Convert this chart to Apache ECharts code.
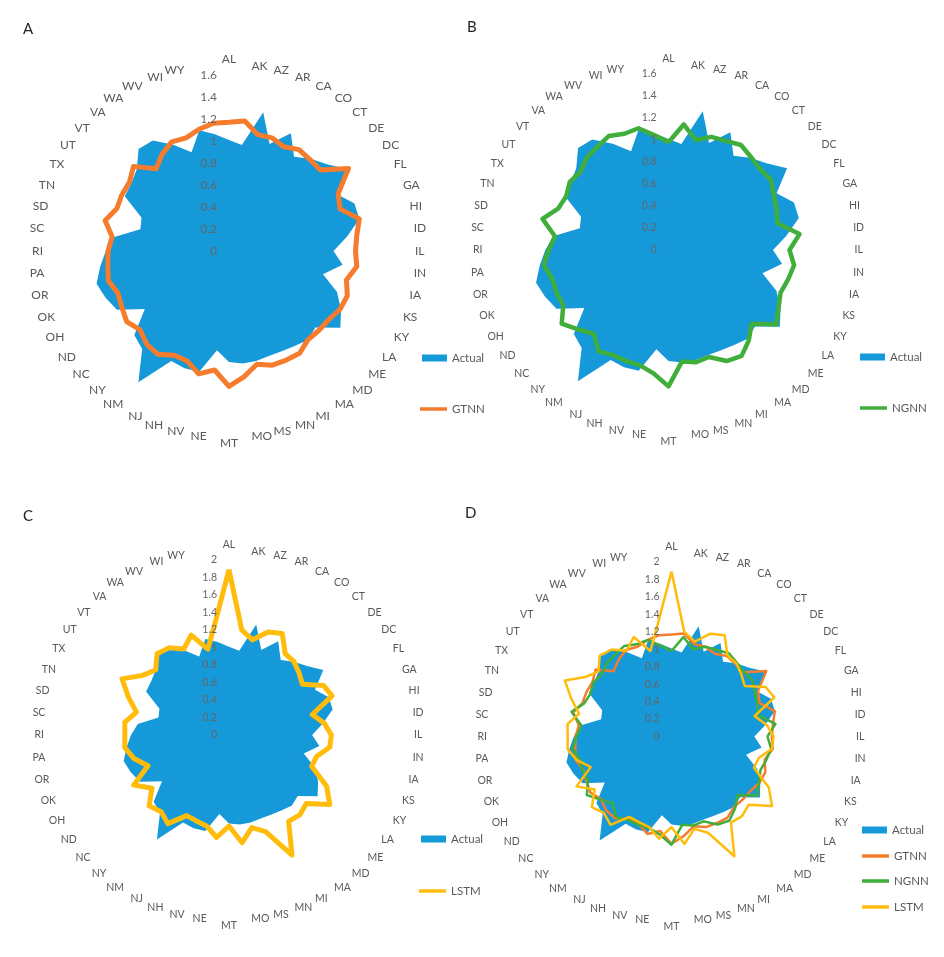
<!DOCTYPE html>
<html><head><meta charset="utf-8">
<style>html,body{margin:0;padding:0;background:#fff}#c{width:944px;height:957px}</style>
<script src="https://cdn.jsdelivr.net/npm/echarts@6/dist/echarts.min.js"></script>
</head><body><div id="c"></div>
<script>
const categories=['AL','AK','AZ','AR','CA','CO','CT','DE','DC','FL','GA','HI','ID','IL','IN','IA','KS','KY','LA','ME','MD','MA','MI','MN','MS','MO','MT','NE','NV','NH','NJ','NM','NY','NC','ND','OH','OK','OR','PA','RI','SC','SD','TN','TX','UT','VT','VA','WA','WV','WI','WY',''];
const actual=[1.01,0.97,1.30,1.04,1.21,1.04,1.12,1.19,1.31,1.11,1.22,1.22,1.08,0.95,1.04,0.88,1.05,1.15,1.23,1.05,1.08,1.05,1.03,1.02,1.03,1.03,1.01,0.91,1.13,1.14,1.13,1.45,1.19,1.15,0.93,1.15,1.20,1.24,1.18,1.12,1.05,0.83,0.85,1.07,1.08,1.12,1.24,1.22,1.09,0.96,1.13,1.07];
const gtnn=[1.17,1.19,1.09,1.10,1.07,1.12,1.11,1.11,1.32,1.12,1.08,1.22,1.17,1.15,1.17,1.10,1.15,1.14,1.10,1.09,1.08,1.13,1.12,1.11,1.06,1.15,1.23,1.09,1.15,1.07,1.07,1.14,1.13,1.08,1.13,1.10,1.08,1.13,1.11,1.10,1.07,1.16,1.09,1.10,1.10,1.16,1.00,1.07,1.12,1.10,1.14,1.17];
const ngnn=[0.98,1.15,1.03,1.10,1.12,1.16,1.13,1.11,1.13,1.08,1.05,1.02,1.20,1.10,1.15,1.12,1.09,1.13,1.19,1.01,1.10,1.17,1.14,1.04,1.05,1.02,1.24,1.13,1.08,1.08,1.08,1.12,1.02,1.09,1.18,1.08,1.09,1.09,1.14,1.09,1.04,1.18,1.07,1.05,1.09,1.07,1.12,1.14,1.17,1.13,1.14,1.05];
const lstm=[1.89,1.21,1.12,1.26,1.31,1.13,1.12,1.07,1.02,1.22,1.26,0.98,1.10,1.17,1.16,1.03,1.01,1.26,1.40,1.18,1.22,1.20,1.55,1.18,1.09,1.24,1.04,1.18,1.07,1.05,1.04,1.23,1.17,1.22,1.07,1.23,0.99,1.12,1.20,1.19,1.20,1.09,1.23,1.38,1.20,1.12,1.24,1.21,1.11,1.22,1.01,1.30];
const colors={Actual:'#1599D8',GTNN:'#F57C2C',NGNN:'#3FAE3A',LSTM:'#FFBC0A'};
const values={GTNN:gtnn,NGNN:ngnn,LSTM:lstm};
// ECharts lays out radar indicators counter-clockwise; the reference runs clockwise from the top.
const cw=a=>[a[0]].concat(a.slice(1).reverse());
const FONT='Lato';
const panels=[
 {tag:'A',tx:23,ty:22,c:[229,251],r:176,max:1.6,split:8,font:12,lines:['GTNN'],w:5,
  legend:[['Actual',422,352],['GTNN',420,403]]},
 {tag:'B',tx:467,ty:20,c:[668.5,250],r:176,max:1.6,split:8,font:10.5,lines:['NGNN'],w:4.5,
  legend:[['Actual',860,351],['NGNN',860,402]]},
 {tag:'C',tx:23,ty:509,c:[229,735],r:175,max:2,split:10,font:10.5,lines:['LSTM'],w:5,
  legend:[['Actual',421,833],['LSTM',419,885]]},
 {tag:'D',tx:465,ty:506,c:[671.5,736.5],r:174.5,max:2,split:10,font:10.5,lines:['GTNN','NGNN','LSTM'],w:2.5,
  legend:[['Actual',862,824],['GTNN',862,850],['NGNN',862,875],['LSTM',862,901]]}
];
const radar=[],series=[],legend=[],graphic=[];
panels.forEach((p,pi)=>{
 radar.push({z:10,center:p.c,radius:p.r,startAngle:90,splitNumber:p.split,shape:'polygon',nameGap:10,
  axisName:{color:'#595959',fontSize:p.font,fontFamily:FONT},
  axisLine:{show:false},axisTick:{show:false},splitLine:{show:false},splitArea:{show:false},
  axisLabel:{show:false},
  indicator:cw(categories).map((n,i)=>{
    const o={name:n,min:0,max:p.max};
    if(i===0)o.axisLabel={show:true,color:'#666',fontSize:p.font,fontFamily:FONT,margin:12,formatter:v=>String(+(+v).toFixed(1))};
    return o;})
 });
 series.push({type:'radar',radarIndex:pi,z:2,symbol:'none',silent:true,
  lineStyle:{width:0},itemStyle:{color:colors.Actual},areaStyle:{color:colors.Actual,opacity:1},
  data:[{name:'Actual',value:cw(actual)}]});
 p.lines.forEach((n,k)=>series.push({type:'radar',radarIndex:pi,z:3+k,symbol:'none',silent:true,
  lineStyle:{width:p.w,color:colors[n],join:'round'},itemStyle:{color:colors[n]},
  data:[{name:n,value:cw(values[n])}]}));
 p.legend.forEach(([n,x,y])=>legend.push({left:x,top:y,padding:0,selectedMode:false,
  itemWidth:n==='Actual'?25:27,itemHeight:n==='Actual'?7:3.5,
  textStyle:{color:'#595959',fontSize:11.5,fontFamily:FONT},
  data:[{name:n,icon:'rect',itemStyle:{color:colors[n]}}]}));
 graphic.push({type:'text',left:p.tx,top:p.ty,style:{text:p.tag,fontSize:15,fill:'#222',fontFamily:FONT}});
});
const chart=echarts.init(document.getElementById('c'),null,{renderer:'canvas'});
chart.setOption({animation:false,backgroundColor:'#fff',radar,series,legend,graphic});
</script></body></html>
